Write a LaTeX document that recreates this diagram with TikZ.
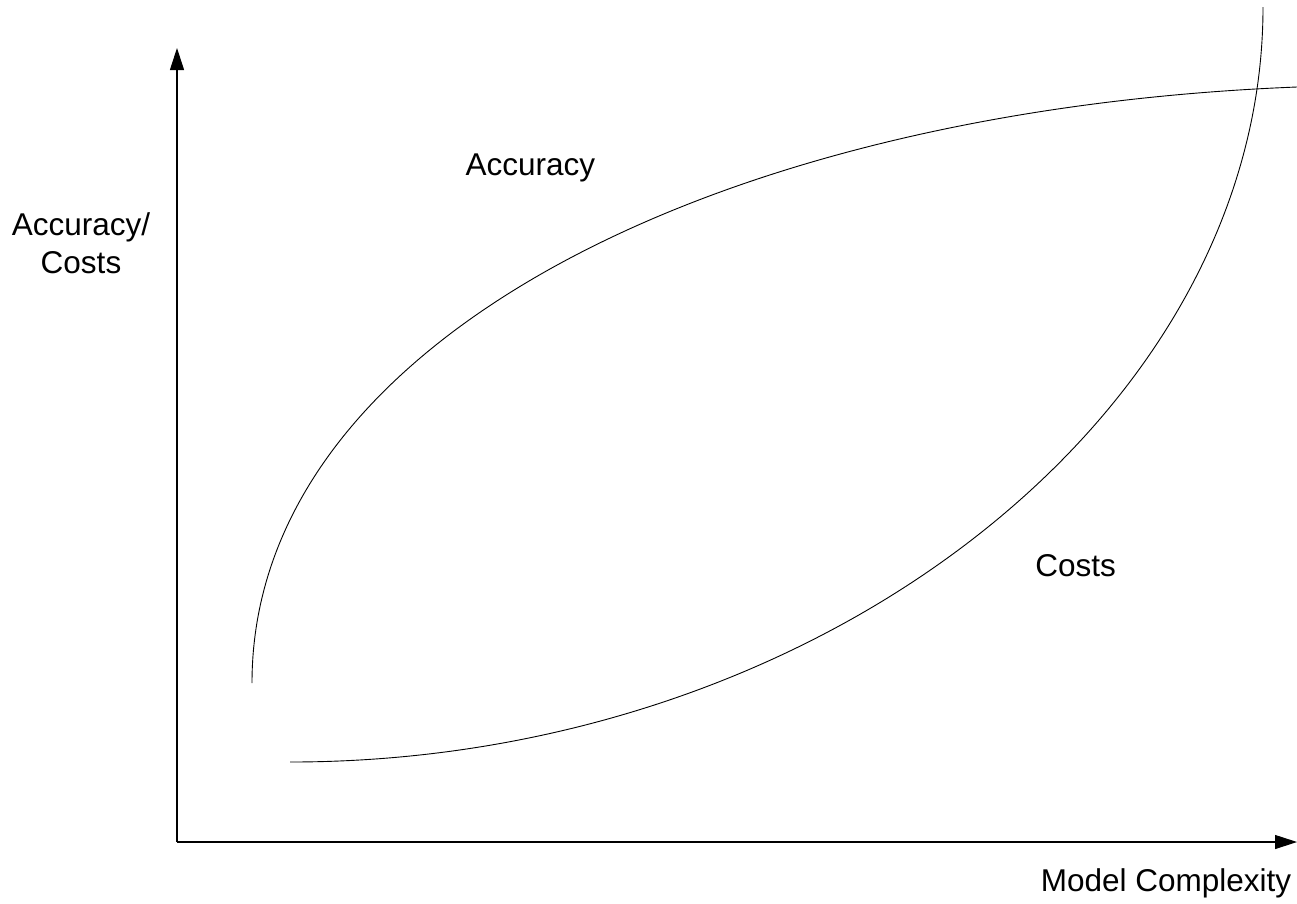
\documentclass[tikz,border=0pt]{standalone}
\usepackage{fontspec}
\setmainfont{Liberation Sans}
\usetikzlibrary{arrows.meta}
\begin{document}
\begin{tikzpicture}[x=1pt,y=-1pt,
  axis/.style={line width=1.1pt, -{Triangle[length=22pt,width=14pt]}},
  curve/.style={line width=0.9pt},
  lbl/.style={font=\fontsize{31.5}{38}\selectfont, inner sep=0pt, anchor=base}]
\useasboundingbox (0,0) rectangle (1297,903);
\coordinate (O) at (177,842);
\coordinate (ytop) at (177,48);
\coordinate (xend) at (1297,842);
\draw[axis] (O) -- (ytop);
\draw[axis] (O) -- (xend);
\coordinate (a0) at (252,683);
\coordinate (a1) at (1297,87);
\draw[curve] (a0) .. controls (252,343) and (712,110) .. (a1);
\coordinate (c0) at (290,762);
\coordinate (c1) at (1263,7);
\draw[curve] (c0) .. controls (820,762) and (1263,414) .. (c1);
\node[lbl] (acc) at (530.3,175) {Accuracy};
\node[lbl] (cost) at (1075.5,576.7) {Costs};
\node[lbl] (mc) at (1166,891.7) {Model Complexity};
\node[lbl, align=center] (ylab) at (81,273.5) {Accuracy/\\Costs};
\end{tikzpicture}
\end{document}
